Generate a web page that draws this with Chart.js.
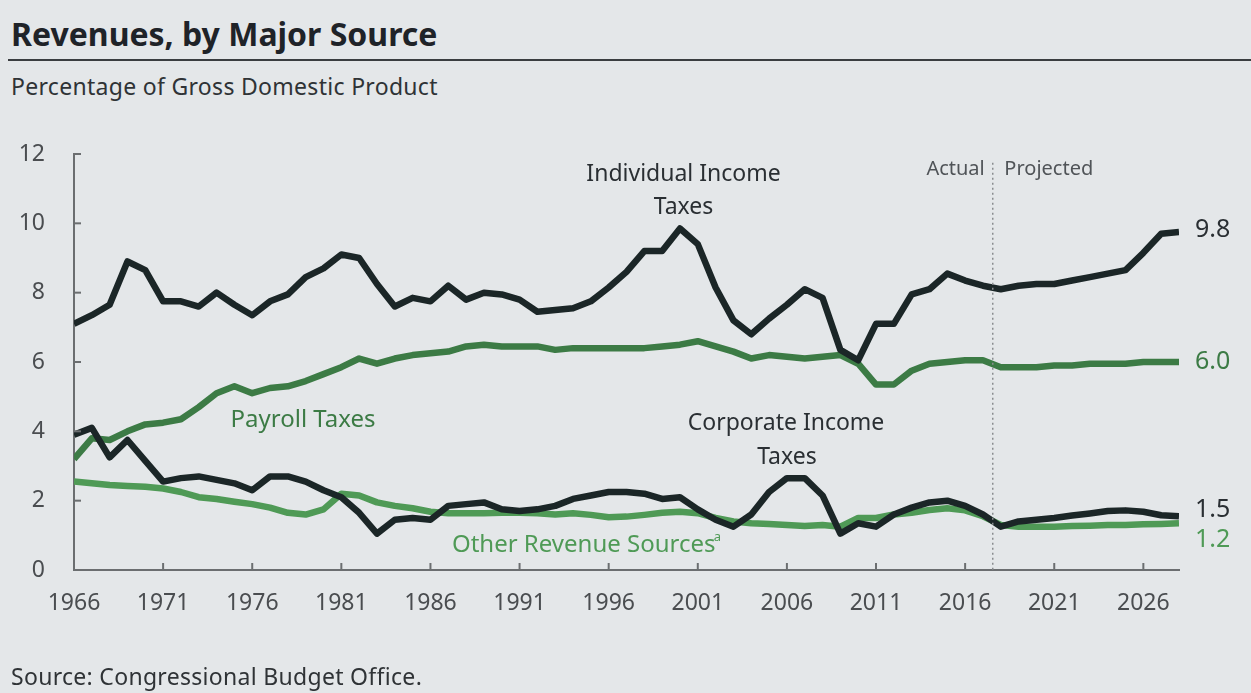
<!DOCTYPE html>
<html>
<head>
<meta charset="utf-8">
<script src="https://cdn.jsdelivr.net/npm/chart.js@4.4.1/dist/chart.umd.min.js"></script>
<style>
  html, body { margin: 0; padding: 0; width: 1251px; height: 693px; overflow: hidden; background: #e4e7e9; font-family: "Noto Sans", sans-serif; }
  #title { position: absolute; left: 11px; top: 12px; font-size: 32px; font-weight: bold; color: #1f2328; letter-spacing: 0px; white-space: nowrap; }
  #rule { position: absolute; left: 8px; right: 0; top: 59px; height: 2px; background: #3a3d40; }
  #subtitle { position: absolute; left: 11px; top: 70px; font-size: 23px; color: #2f3336; white-space: nowrap; letter-spacing: 0.3px; }
  #source { position: absolute; left: 11px; top: 660px; font-size: 23px; color: #2f3336; white-space: nowrap; letter-spacing: 0.3px; }
  #chart { position: absolute; left: 0; top: 0; }
</style>
</head>
<body>
<div id="title">Revenues, by Major Source</div>
<div id="rule"></div>
<div id="subtitle">Percentage of Gross Domestic Product</div>
<canvas id="chart" width="1251" height="693"></canvas>
<div id="source">Source: Congressional Budget Office.</div>
<script>
// ---- Data (percentage of GDP), fiscal years 1966-2028 ----
const years = [1966,1967,1968,1969,1970,1971,1972,1973,1974,1975,1976,1977,1978,1979,1980,1981,1982,1983,1984,1985,1986,1987,1988,1989,1990,1991,1992,1993,1994,1995,1996,1997,1998,1999,2000,2001,2002,2003,2004,2005,2006,2007,2008,2009,2010,2011,2012,2013,2014,2015,2016,2017,2018,2019,2020,2021,2022,2023,2024,2025,2026,2027,2028];

const individualIncome = [7.1,7.35,7.65,8.9,8.65,7.75,7.75,7.6,8.0,7.65,7.35,7.75,7.95,8.45,8.7,9.1,9.0,8.25,7.6,7.85,7.75,8.2,7.8,8.0,7.95,7.8,7.45,7.5,7.55,7.75,8.15,8.6,9.2,9.2,9.85,9.4,8.15,7.2,6.8,7.25,7.65,8.1,7.85,6.35,6.05,7.1,7.1,7.95,8.1,8.55,8.35,8.2,8.1,8.2,8.25,8.25,8.35,8.45,8.55,8.65,9.15,9.7,9.75];

const payroll = [3.2,3.8,3.75,4.0,4.2,4.25,4.35,4.7,5.1,5.3,5.1,5.25,5.3,5.45,5.65,5.85,6.1,5.95,6.1,6.2,6.25,6.3,6.45,6.5,6.45,6.45,6.45,6.35,6.4,6.4,6.4,6.4,6.4,6.45,6.5,6.6,6.45,6.3,6.1,6.2,6.15,6.1,6.15,6.2,5.95,5.35,5.35,5.75,5.95,6.0,6.05,6.05,5.85,5.85,5.85,5.9,5.9,5.95,5.95,5.95,6.0,6.0,6.0];

const corporateIncome = [3.9,4.1,3.25,3.75,3.15,2.55,2.65,2.7,2.6,2.5,2.3,2.7,2.7,2.55,2.3,2.1,1.65,1.05,1.45,1.5,1.45,1.85,1.9,1.95,1.75,1.7,1.75,1.85,2.05,2.15,2.25,2.25,2.2,2.05,2.1,1.75,1.45,1.25,1.6,2.25,2.65,2.65,2.15,1.05,1.35,1.25,1.6,1.8,1.95,2.0,1.85,1.6,1.25,1.4,1.45,1.5,1.57,1.63,1.7,1.72,1.68,1.58,1.55];

const otherRevenue = [2.55,2.5,2.45,2.42,2.4,2.35,2.25,2.1,2.05,1.97,1.9,1.8,1.65,1.6,1.75,2.2,2.15,1.95,1.85,1.78,1.68,1.64,1.64,1.64,1.65,1.65,1.64,1.6,1.64,1.59,1.52,1.54,1.59,1.65,1.68,1.64,1.5,1.4,1.35,1.33,1.3,1.27,1.3,1.25,1.5,1.5,1.6,1.65,1.73,1.78,1.72,1.55,1.3,1.25,1.25,1.25,1.27,1.28,1.3,1.3,1.32,1.33,1.35];

const xTickYears = [1966,1971,1976,1981,1986,1991,1996,2001,2006,2011,2016,2021,2026];
const yTickValues = [0,2,4,6,8,10,12];
const lastActualYear = 2017;
const endLabels = ["9.8","6.0","1.5","1.2"];

const BLACK = '#1b2627';
const GREEN_DARK = '#3c7b45';
const GREEN_LIGHT = '#4f9a56';
const AXIS = '#6b6e70';
const FONT = '"Noto Sans", sans-serif';

const toXY = arr => arr.map((v, i) => ({ x: years[i], y: v }));

const annotations = {
  id: 'annotations',
  afterDatasetsDraw(chart) {
    const { ctx, scales: { x, y } } = chart;
    ctx.save();
    // inside tick marks
    ctx.strokeStyle = AXIS; ctx.lineWidth = 2;
    xTickYears.forEach(v => {
      const px = x.getPixelForValue(v);
      ctx.beginPath(); ctx.moveTo(px, y.bottom); ctx.lineTo(px, y.bottom - 7); ctx.stroke();
    });
    yTickValues.forEach(v => {
      const py = y.getPixelForValue(v);
      ctx.beginPath(); ctx.moveTo(x.left, py); ctx.lineTo(x.left + 7, py); ctx.stroke();
    });
    // actual / projected divider
    const dx = x.getPixelForValue(lastActualYear + 0.55);
    ctx.strokeStyle = '#8a8d90'; ctx.lineWidth = 1.5; ctx.setLineDash([2, 3]);
    ctx.beginPath(); ctx.moveTo(dx, y.getPixelForValue(11.75)); ctx.lineTo(dx, y.bottom); ctx.stroke();
    ctx.setLineDash([]);

    const text = (s, xv, yv, color, size, align) => {
      ctx.fillStyle = color; ctx.font = size + 'px ' + FONT;
      ctx.textAlign = align || 'center'; ctx.textBaseline = 'middle';
      ctx.fillText(s, x.getPixelForValue(xv), y.getPixelForValue(yv));
    };
    text('Actual', lastActualYear + 0.1, 11.55, '#505458', 20, 'right');
    text('Projected', lastActualYear + 1.2, 11.55, '#505458', 20, 'left');

    text('Individual Income', 2000.2, 11.4, '#2a2f33', 23);
    text('Taxes', 2000.2, 10.45, '#2a2f33', 23);
    text('Payroll Taxes', 1978.85, 4.33, GREEN_DARK, 24);
    text('Corporate Income', 2005.95, 4.24, '#2a2f33', 23);
    text('Taxes', 2006.0, 3.26, '#2a2f33', 23);
    text('Other Revenue Sources', 1994.6, 0.72, GREEN_LIGHT, 24);
    text('a', 2001.9, 0.95, GREEN_LIGHT, 13, 'left');

    text(endLabels[0], 2028.9, 9.8, '#2a2f33', 25, 'left');
    text(endLabels[1], 2028.9, 6.0, GREEN_DARK, 25, 'left');
    text(endLabels[2], 2028.9, 1.72, '#2a2f33', 25, 'left');
    text(endLabels[3], 2028.9, 0.86, GREEN_LIGHT, 25, 'left');
    ctx.restore();
  }
};

const ds = (label, data, color, order) => ({
  label, data: toXY(data), borderColor: color, borderWidth: 6.5,
  pointRadius: 0, tension: 0, borderJoinStyle: 'round', borderCapStyle: 'butt',
  fill: false, order
});

new Chart(document.getElementById('chart'), {
  type: 'line',
  data: {
    datasets: [
      ds('Individual Income Taxes', individualIncome, BLACK, 1),
      ds('Corporate Income Taxes', corporateIncome, BLACK, 2),
      ds('Payroll Taxes', payroll, GREEN_DARK, 3),
      ds('Other Revenue Sources', otherRevenue, GREEN_LIGHT, 4)
    ]
  },
  options: {
    responsive: false,
    animation: false,
    devicePixelRatio: 1,
    layout: { padding: { left: 0, right: 72, top: 154, bottom: 0 } },
    plugins: { legend: { display: false }, tooltip: { enabled: false }, title: { display: false } },
    scales: {
      x: {
        type: 'linear', min: 1966, max: 2028,
        afterBuildTicks: s => { s.ticks = xTickYears.map(v => ({ value: v })); },
        afterFit: s => { s.height = 123; },
        grid: { display: false, drawTicks: false },
        border: { display: true, color: AXIS, width: 2 },
        ticks: { color: '#4a4d50', font: { family: FONT, size: 23 }, padding: 20, maxRotation: 0, autoSkip: false, callback: v => String(v) }
      },
      y: {
        min: 0, max: 12,
        afterBuildTicks: s => { s.ticks = yTickValues.map(v => ({ value: v })); },
        afterFit: s => { s.width = 74; },
        grid: { display: false, drawTicks: false },
        border: { display: true, color: AXIS, width: 2 },
        ticks: { color: '#4a4d50', font: { family: FONT, size: 23 }, padding: 29 }
      }
    }
  },
  plugins: [annotations]
});
</script>
</body>
</html>
